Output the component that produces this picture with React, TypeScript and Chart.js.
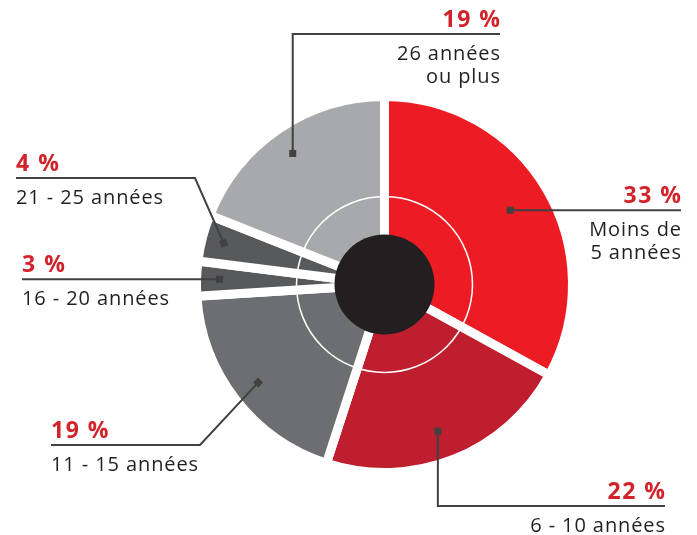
import React, { useEffect, useRef } from "react";
import { Chart, registerables } from "chart.js";

Chart.register(...registerables);

const categories: string[][] = [
  ["Moins de", "5 années"],
  ["6 - 10 années"],
  ["11 - 15 années"],
  ["16 - 20 années"],
  ["21 - 25 années"],
  ["26 années", "ou plus"],
];
const values = [33, 22, 19, 3, 4, 19];
const sliceColors = ["#ED1C24", "#BE1E2D", "#6D6E71", "#58595B", "#58595B", "#A7A9AC"];

// label layout (annotation positions, not data)
type LabelLayout = {
  align: "left" | "right";
  textX: number;
  lineY: number;
  markerR: number;
  nudge: number; // degrees
  path: "horizontal" | "elbowDown" | "elbowUp" | "diag";
  elbowX?: number;
};
const labelLayout: LabelLayout[] = [
  { align: "right", textX: 681, lineY: 210, markerR: 146, nudge: 0, path: "horizontal" },
  { align: "right", textX: 665, lineY: 506, markerR: 156, nudge: 1.6, path: "elbowDown" },
  { align: "left", textX: 51, lineY: 445, markerR: 160, nudge: 0, path: "diag", elbowX: 200 },
  { align: "left", textX: 22, lineY: 280, markerR: 165, nudge: 0, path: "horizontal" },
  { align: "left", textX: 16, lineY: 178, markerR: 166, nudge: 0, path: "diag", elbowX: 195 },
  { align: "right", textX: 500, lineY: 34, markerR: 160, nudge: -0.8, path: "elbowUp" },
];

const LINE_COLOR = "#414042";
const PCT_COLOR = "#D2232A";
const TEXT_COLOR = "#231F20";

const decorPlugin = {
  id: "decor",
  afterDatasetsDraw(chart: any) {
    const ctx: CanvasRenderingContext2D = chart.ctx;
    const meta = chart.getDatasetMeta(0);
    const arcs = meta.data;
    if (!arcs.length) return;
    const cx = arcs[0].x;
    const cy = arcs[0].y;

    ctx.save();
    // thin inner white circle
    ctx.beginPath();
    ctx.arc(cx, cy, 88, 0, Math.PI * 2);
    ctx.strokeStyle = "#FFFFFF";
    ctx.lineWidth = 1.5;
    ctx.stroke();
    // black hub
    ctx.beginPath();
    ctx.arc(cx, cy, 50, 0, Math.PI * 2);
    ctx.fillStyle = "#231F20";
    ctx.fill();

    arcs.forEach((arc: any, i: number) => {
      const L = labelLayout[i];
      const { startAngle, endAngle } = arc.getProps(["startAngle", "endAngle"], true);
      const mid = (startAngle + endAngle) / 2 + (L.nudge * Math.PI) / 180;
      const mx = cx + Math.cos(mid) * L.markerR;
      const my = cy + Math.sin(mid) * L.markerR;

      // leader line
      ctx.beginPath();
      ctx.strokeStyle = LINE_COLOR;
      ctx.lineWidth = 2;
      let dirAngle = 0;
      if (L.path === "horizontal") {
        ctx.moveTo(mx, my);
        ctx.lineTo(L.textX, my);
      } else if (L.path === "elbowDown" || L.path === "elbowUp") {
        ctx.moveTo(mx, my);
        ctx.lineTo(mx, L.lineY);
        ctx.lineTo(L.textX, L.lineY);
      } else {
        ctx.moveTo(L.textX, L.lineY);
        ctx.lineTo(L.elbowX as number, L.lineY);
        ctx.lineTo(mx, my);
        dirAngle = Math.atan2(my - L.lineY, mx - (L.elbowX as number));
      }
      ctx.stroke();

      // marker square
      ctx.save();
      ctx.translate(mx, my);
      ctx.rotate(dirAngle);
      ctx.fillStyle = LINE_COLOR;
      ctx.fillRect(-3.5, -3.5, 7, 7);
      ctx.restore();

      // texts
      const lineY = L.path === "horizontal" ? my : L.lineY;
      ctx.textAlign = L.align;
      ctx.textBaseline = "alphabetic";
      (ctx as any).letterSpacing = "1.5px";
      ctx.font = "bold 23px 'Open Sans'";
      ctx.fillStyle = PCT_COLOR;
      const shift = L.align === "right" ? 1.5 : 0;
      ctx.fillText(`${values[i]} %`, L.textX + shift, lineY - 7);
      (ctx as any).letterSpacing = "0.9px";
      ctx.font = "20px 'Open Sans'";
      ctx.fillStyle = TEXT_COLOR;
      const shift2 = L.align === "right" ? 0.9 : 0;
      categories[i].forEach((t, k) => {
        ctx.fillText(t, L.textX + shift2, lineY + 26 + k * 23);
      });
    });
    ctx.restore();
  },
};

export default function App() {
  const ref = useRef<HTMLCanvasElement | null>(null);
  useEffect(() => {
    if (!ref.current) return;
    const chart = new Chart(ref.current, {
      type: "pie",
      data: {
        labels: categories.map((c) => c.join(" ")),
        datasets: [
          {
            data: values,
            backgroundColor: sliceColors,
            borderColor: "#FFFFFF",
            borderWidth: 9,
            borderAlign: "center",
          },
        ],
      },
      options: {
        responsive: false,
        animation: false,
        events: [],
        layout: { padding: { left: 192, right: 120, top: 92, bottom: 58 } },
        plugins: { legend: { display: false }, tooltip: { enabled: false } },
      },
      plugins: [decorPlugin],
    });
    return () => chart.destroy();
  }, []);
  return (
    <div style={{ position: "absolute", left: 0, top: 0, width: 697, height: 535, background: "#FFFFFF" }}>
      <canvas ref={ref} width={697} height={535} style={{ display: "block" }} />
    </div>
  );
}
